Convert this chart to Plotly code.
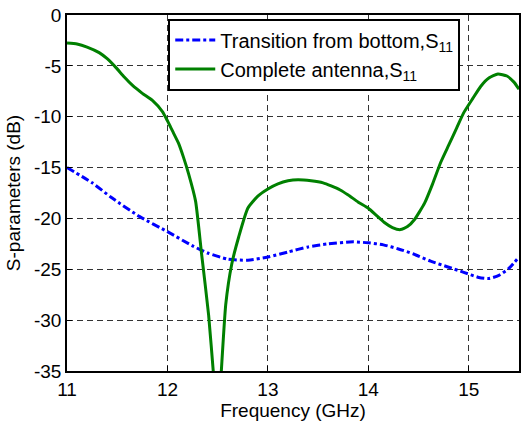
import plotly.graph_objects as go

freq_green = [11.0, 11.1, 11.2, 11.32, 11.4, 11.49, 11.57, 11.65, 11.75, 11.85, 11.95, 12.0, 12.05,
              12.11, 12.16, 12.21, 12.28, 12.34, 12.41, 12.46, 12.50, 12.53, 12.58, 12.64, 12.71,
              12.8, 12.9, 13.0, 13.1, 13.2, 13.3, 13.43, 13.55, 13.63, 13.72, 13.80, 13.9, 14.0,
              14.08, 14.16, 14.24, 14.32, 14.39, 14.46, 14.56, 14.64, 14.72, 14.8, 14.88, 14.95,
              15.04, 15.12, 15.2, 15.29, 15.38, 15.45, 15.5]
s11_complete = [-2.75, -2.85, -3.15, -3.7, -4.3, -5.2, -6.1, -6.9, -7.7, -8.4, -9.5, -10.4, -11.4,
                -12.6, -14.0, -15.6, -18.3, -23.5, -29.5, -35.5, -40.0, -36.0, -28.5, -24.5, -21.8,
                -19.0, -17.8, -17.1, -16.6, -16.3, -16.2, -16.3, -16.5, -16.8, -17.2, -17.7, -18.4,
                -19.0, -19.7, -20.4, -20.9, -21.1, -20.8, -20.1, -18.5, -16.6, -14.5, -12.8, -11.1,
                -9.6, -8.2, -7.0, -6.2, -5.8, -6.0, -6.6, -7.3]

freq_blue = [11.0, 11.25, 11.45, 11.72, 12.0, 12.25, 12.4, 12.6, 12.8, 13.0, 13.2, 13.4, 13.6,
             13.85, 14.0, 14.15, 14.3, 14.45, 14.62, 14.8, 14.95, 15.1, 15.2, 15.3, 15.4, 15.5]
s11_transition = [-15.0, -16.5, -18.0, -19.8, -21.3, -22.7, -23.4, -24.0, -24.1, -23.8, -23.3,
                  -22.8, -22.5, -22.3, -22.4, -22.6, -23.0, -23.5, -24.2, -24.8, -25.3, -25.8,
                  -25.9, -25.6, -24.9, -23.8]

x_ticks = [11, 12, 13, 14, 15]
y_ticks = [0, -5, -10, -15, -20, -25, -30, -35]

FONT = "Liberation Sans, Arial, sans-serif"
FS = 19

fig = go.Figure()
fig.add_trace(go.Scatter(
    x=freq_blue, y=s11_transition, mode="lines",
    name="Transition from bottom,S<sub>11</sub>",
    line=dict(color="rgb(0,0,255)", width=3, dash="8px,3px,3px,3px", shape="spline", smoothing=0.6),
))
fig.add_trace(go.Scatter(
    x=freq_green, y=s11_complete, mode="lines",
    name="Complete antenna,S<sub>11</sub>",
    line=dict(color="rgb(0,128,0)", width=3, shape="spline", smoothing=0.5),
))

axis_common = dict(
    showline=True, linecolor="black", linewidth=1.5, mirror=True,
    ticks="inside", ticklen=5, tickcolor="black",
    showgrid=True, gridcolor="#333333", griddash="6px,4px", gridwidth=1,
    zeroline=False,
    tickfont=dict(family=FONT, size=FS, color="black"),
)

fig.update_xaxes(
    range=[11, 15.5], tickvals=x_ticks, ticktext=[str(v) for v in x_ticks],
    title=dict(text="Frequency (GHz)", font=dict(family=FONT, size=FS, color="black"), standoff=2),
    **axis_common,
)
fig.update_yaxes(
    range=[-35, 0], tickvals=y_ticks, ticktext=[str(v) for v in y_ticks],
    title=dict(text="S-parameters (dB)", font=dict(family=FONT, size=FS, color="black"), standoff=8),
    **axis_common,
)

fig.update_layout(
    width=521, height=423,
    margin=dict(l=67, r=0, t=15, b=52),
    plot_bgcolor="white", paper_bgcolor="white",
    font=dict(family=FONT, size=FS, color="black"),
    showlegend=True,
    legend=dict(
        x=0.224, y=0.99, xanchor="left", yanchor="top",
        bgcolor="white", bordercolor="black", borderwidth=2,
        font=dict(family=FONT, size=20, color="black"),
        tracegroupgap=0, itemwidth=40,
    ),
)

fig.write_html("out.html")
